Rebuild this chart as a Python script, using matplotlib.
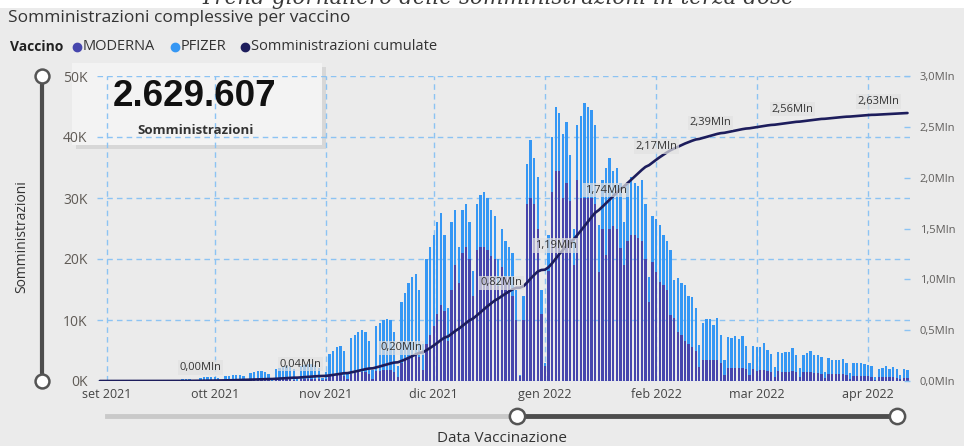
import matplotlib
matplotlib.use("Agg")
import matplotlib.pyplot as plt
import matplotlib.dates as mdates
from matplotlib.patches import Rectangle
from matplotlib.lines import Line2D
import numpy as np
import pandas as pd

plt.rcParams['font.family'] = ['Open Sans', 'DejaVu Sans']

# daily third doses in thousands, one row per week (Mon..Sun), first day 30 ago 2021
start_day = '2021-08-30'
totale_k = [
    0, 0, 0, 0, 0, 0, 0,
    0, 0, 0, 0, 0, 0, 0,
    0, 0, 0, 0, 0, 0, 0,
    0.1, 0.2, 0.3, 0.3, 0.3, 0.2, 0.05,
    0.5, 0.6, 0.6, 0.6, 0.6, 0.5, 0.1,
    0.8, 0.9, 1.0, 1.0, 1.0, 0.8, 0.2,
    1.3, 1.5, 1.6, 1.6, 1.5, 1.2, 0.3,
    1.9, 2.1, 2.3, 2.4, 2.3, 1.9, 0.4,
    2.5, 2.7, 2.8, 2.8, 2.7, 2.1, 0.5,
    1.5, 4.5, 5.0, 5.5, 5.8, 5.0, 1.2,
    7.0, 7.5, 8.0, 8.3, 8.0, 6.5, 1.8,
    9.0, 9.5, 10.0, 10.2, 10.0, 8.0, 2.5,
    13.0, 14.5, 16.0, 17.0, 17.5, 15.0, 6.0,
    20.0, 22.0, 24.0, 26.0, 27.5, 24.0, 12.0,
    26.0, 28.0, 22.0, 28.0, 29.0, 26.0, 18.0,
    29.0, 30.5, 31.0, 30.0, 28.0, 27.0, 20.0,
    25.0, 23.0, 22.0, 21.0, 15.0, 1.0, 14.0,
    35.5, 39.5, 36.5, 33.5, 15.0, 3.0, 24.0,
    40.0, 45.0, 44.0, 40.5, 42.5, 37.0, 25.0,
    42.0, 43.5, 45.5, 45.0, 44.5, 42.0, 25.5,
    33.0, 35.0, 36.5, 34.5, 35.0, 32.5, 26.0,
    32.5, 33.5, 32.5, 32.0, 33.0, 29.0, 17.0,
    27.0, 26.5, 25.5, 24.0, 23.0, 21.5, 16.5,
    16.9, 16.0, 15.7, 14.0, 13.7, 12.0, 5.9,
    9.5, 10.2, 10.2, 9.2, 10.3, 7.5, 3.4,
    7.2, 7.1, 7.4, 6.9, 7.3, 5.7, 2.9,
    5.7, 5.5, 5.6, 6.2, 5.1, 4.5, 2.3,
    4.8, 4.6, 4.7, 4.7, 5.4, 4.3, 2.1,
    4.3, 4.6, 4.9, 4.3, 4.3, 4.0, 1.5,
    3.7, 3.4, 3.4, 3.4, 3.6, 3.0, 1.3,
    3.0, 3.0, 2.9, 2.8, 2.7, 2.4, 0.7,
    2.0, 2.1, 2.4, 2.0, 2.3, 1.9, 1.0,
    1.9, 1.8,
]
moderna_k = [
    0, 0, 0, 0, 0, 0, 0,
    0, 0, 0, 0, 0, 0, 0,
    0, 0, 0, 0, 0, 0, 0,
    0, 0, 0, 0, 0, 0, 0,
    0.03, 0.03, 0.03, 0.03, 0.03, 0.03, 0.01,
    0.08, 0.08, 0.1, 0.1, 0.1, 0.08, 0.02,
    0.12, 0.15, 0.15, 0.15, 0.15, 0.12, 0.03,
    0.2, 0.2, 0.25, 0.25, 0.25, 0.2, 0.05,
    0.3, 0.3, 0.35, 0.35, 0.35, 0.3, 0.1,
    0.3, 0.8, 0.9, 1.0, 1.0, 0.9, 0.3,
    1.2, 1.3, 1.4, 1.5, 1.4, 1.2, 0.4,
    1.6, 1.7, 1.8, 1.8, 1.8, 1.5, 0.6,
    3.0, 3.5, 4.0, 4.3, 4.6, 4.0, 1.8,
    6.0, 7.5, 9.0, 11.0, 12.5, 11.5, 6.5,
    15.0, 19.0, 16.0, 21.0, 22.0, 20.0, 14.0,
    21.5, 22.0, 22.0, 21.5, 20.5, 20.0, 15.5,
    18.7, 17.0, 17.0, 14.0, 10.0, 0.8, 10.0,
    29.0, 30.0, 29.0, 25.0, 11.0, 2.5, 18.0,
    31.0, 34.5, 34.5, 30.0, 32.5, 29.5, 19.0,
    33.0, 30.0, 30.0, 30.0, 30.0, 29.0, 17.9,
    25.0, 20.6, 25.0, 25.4, 25.0, 21.8, 19.0,
    23.0, 24.0, 24.0, 23.5, 23.0, 20.0, 13.0,
    19.5, 17.9, 16.2, 15.7, 14.9, 10.8, 10.3,
    8.1, 7.5, 6.5, 6.0, 5.6, 4.9, 2.3,
    3.4, 3.4, 3.4, 3.4, 3.4, 3.0, 1.0,
    2.2, 2.2, 2.2, 2.2, 2.2, 2.0, 1.0,
    2.0, 1.7, 1.8, 1.8, 1.7, 1.5, 0.7,
    1.6, 1.5, 1.5, 1.5, 1.6, 1.4, 0.7,
    1.4, 1.4, 1.4, 1.3, 1.3, 1.2, 0.5,
    1.2, 1.1, 1.1, 1.1, 1.1, 1.0, 0.4,
    0.9, 0.9, 0.9, 0.8, 0.8, 0.7, 0.2,
    0.6, 0.6, 0.6, 0.6, 0.6, 0.5, 0.3,
    0.5, 0.5,
]

month_starts = ['2021-09-01', '2021-10-01', '2021-11-01', '2021-12-01',
                '2022-01-01', '2022-02-01', '2022-03-01', '2022-04-01']
month_labels = ['set 2021', 'ott 2021', 'nov 2021', 'dic 2021',
                'gen 2022', 'feb 2022', 'mar 2022', 'apr 2022']
left_ticks = [0, 10000, 20000, 30000, 40000, 50000]
left_labels = ['0K', '10K', '20K', '30K', '40K', '50K']
right_ticks = [0, 500000, 1000000, 1500000, 2000000, 2500000, 3000000]
right_labels = ['0,0Mln', '0,5Mln', '1,0Mln', '1,5Mln', '2,0Mln', '2,5Mln', '3,0Mln']
label_dates = ['2021-09-27', '2021-10-25', '2021-11-22', '2021-12-20', '2022-01-04',
               '2022-01-18', '2022-02-01', '2022-02-16', '2022-03-11', '2022-04-04']
label_mln = [0.00, 0.04, 0.20, 0.82, 1.19, 1.74, 2.17, 2.39, 2.56, 2.63]
total_doses = 2629607

c_moderna = '#4646ad'
c_pfizer = '#3597f4'
c_cum = '#1d1d5c'
c_grid = '#8cc3f3'

days = pd.date_range(start_day, periods=len(totale_k), freq='D')
moderna = np.array(moderna_k) * 1000
pfizer = (np.array(totale_k) - np.array(moderna_k)) * 1000
cumulate = np.cumsum(moderna + pfizer)

W, H = 964, 446
fig = plt.figure(figsize=(W / 100, H / 100), dpi=100, facecolor='#ebebeb')

def fx(x):
    return x / W

def fy(y):
    return 1 - y / H

# white strip with the page title, cut at the top as in the dashboard
fig.patches.append(Rectangle((0, fy(8)), 1, 8 / H, transform=fig.transFigure,
                             facecolor='white', edgecolor='none', zorder=-3))
fig.text(fx(497), fy(4), 'Trend giornaliero delle somministrazioni in terza dose',
         ha='center', va='baseline', family='DejaVu Serif', style='italic',
         fontsize=15.5, color='#3a3a3a')

fig.text(fx(8), fy(18), 'Somministrazioni complessive per vaccino', ha='left', va='center',
         fontsize=12.5, color='#333333')

# legend
ly = fy(47)
fig.text(fx(10), ly, 'Vaccino', ha='left', va='center', fontsize=10, fontweight='bold', color='#222222')
for x_dot, x_txt, col, txt in [(77, 83, c_moderna, 'MODERNA'), (175, 181, c_pfizer, 'PFIZER'),
                               (245, 251, c_cum, 'Somministrazioni cumulate')]:
    fig.add_artist(Line2D([fx(x_dot)], [ly], marker='o', markersize=6, color=col,
                          transform=fig.transFigure))
    fig.text(fx(x_txt), ly, txt, ha='left', va='center', fontsize=10.5, color='#333333')

# KPI card
fig.patches.append(Rectangle((fx(76), fy(149)), 250 / W, 82 / H, transform=fig.transFigure,
                             facecolor='#c4c4c4', edgecolor='none', alpha=0.5, zorder=-2))
fig.patches.append(Rectangle((fx(72), fy(145)), 250 / W, 82 / H, transform=fig.transFigure,
                             facecolor='#f3f3f3', edgecolor='none', zorder=-1))
fig.text(fx(195), fy(97), f"{total_doses:,}".replace(',', '.'), ha='center', va='center',
         family='Liberation Sans', fontweight='bold', fontsize=26.5, color='#111111', zorder=5)
fig.text(fx(196), fy(130), 'Somministrazioni', ha='center', va='center', fontsize=9.5,
         fontweight='bold', color='#333333', zorder=5)

ax = fig.add_axes([fx(97), fy(381), 813 / W, 305 / H])
ax.set_facecolor('none')
ax.bar(days, moderna, width=0.65, color=c_moderna, linewidth=0)
ax.bar(days, pfizer, width=0.65, bottom=moderna, color=c_pfizer, linewidth=0)

d0 = mdates.date2num(pd.Timestamp('2021-09-01'))
ax.set_xlim(d0 - 2.8, d0 + 223.7)
ax.set_ylim(0, 50000)
ax.set_yticks(left_ticks)
ax.set_yticklabels(left_labels)
ax.set_xticks(pd.to_datetime(month_starts))
ax.set_xticklabels(month_labels)
ax.grid(True, color=c_grid, linestyle=(0, (4, 3)), linewidth=1.0)
ax.set_axisbelow(True)
ax.tick_params(axis='both', length=0)
ax.tick_params(axis='y', pad=7, labelsize=10, labelcolor='#5f5a55')
ax.tick_params(axis='x', pad=5, labelsize=9, labelcolor='#444444')
for s in ax.spines.values():
    s.set_visible(False)

ax2 = ax.twinx()
ax2.patch.set_visible(False)
ax2.plot(days, cumulate, color=c_cum, linewidth=1.9, solid_capstyle='round')
ax2.set_ylim(0, 3000000)
ax2.set_yticks(right_ticks)
ax2.set_yticklabels(right_labels)
ax2.tick_params(axis='y', length=4, width=1, color=c_grid, direction='in', pad=7,
                labelsize=8, labelcolor='#605e5c')
for s in ax2.spines.values():
    s.set_visible(False)

for dstr, v in zip(label_dates, label_mln):
    i = days.get_loc(pd.Timestamp(dstr))
    ax2.annotate(f"{v:.2f}".replace('.', ',') + 'Mln', xy=(days[i], cumulate[i]),
                 xytext=(0, 9.5), textcoords='offset points', ha='center', va='center',
                 fontsize=8, color='#333333', zorder=6,
                 bbox=dict(boxstyle='square,pad=0.15', fc='#e2e2e2', ec='none', alpha=0.7))

# range sliders
fig.add_artist(Line2D([fx(42), fx(42)], [fy(76), fy(381)], color='#4d4d4d', linewidth=3,
                      transform=fig.transFigure))
fig.add_artist(Line2D([fx(42), fx(42)], [fy(76), fy(381)], linestyle='none', marker='o',
                      markersize=10, markerfacecolor='white', markeredgecolor='#555555',
                      markeredgewidth=1.8, transform=fig.transFigure))
fig.add_artist(Line2D([fx(107), fx(517)], [fy(416), fy(416)], color='#c9c9c9', linewidth=3.5,
                      transform=fig.transFigure))
fig.add_artist(Line2D([fx(517), fx(897)], [fy(416), fy(416)], color='#4d4d4d', linewidth=3.5,
                      transform=fig.transFigure))
fig.add_artist(Line2D([fx(517), fx(897)], [fy(416), fy(416)], linestyle='none', marker='o',
                      markersize=11, markerfacecolor='white', markeredgecolor='#555555',
                      markeredgewidth=1.8, transform=fig.transFigure))

fig.text(fx(22), fy(237), 'Somministrazioni', rotation=90, ha='center', va='center',
         fontsize=10, color='#333333')
fig.text(fx(502), fy(438), 'Data Vaccinazione', ha='center', va='center',
         fontsize=11, color='#333333')

fig.savefig('out.png', dpi=100, facecolor=fig.get_facecolor())
